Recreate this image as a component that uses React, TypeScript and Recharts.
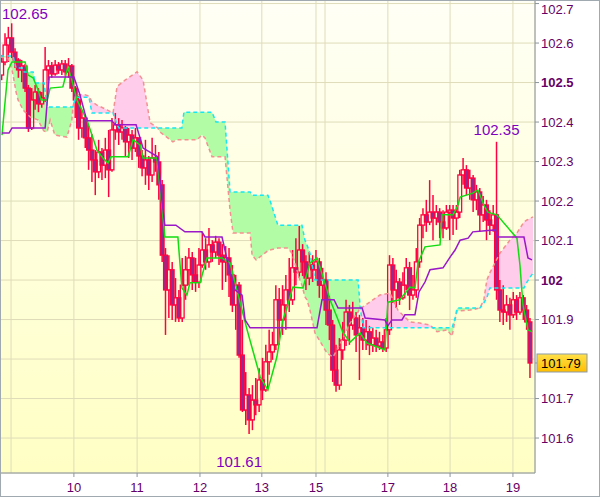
import {
  ComposedChart,
  Bar,
  Line,
  Area,
  XAxis,
  YAxis,
  CartesianGrid,
  ReferenceDot,
} from "recharts";

const FONT = "'Liberation Sans', Arial, sans-serif";

// x axis: one unit = one candle, day boundaries
const dayTicks = [3.3, 22.1, 41.0, 59.8, 78.3, 94.5, 97.2, 116.0, 134.6, 153.4];
const dayLabels = ["", "10", "11", "12", "13", "15", "", "17", "18", "19"];

const priceTicks = [101.6, 101.7, 101.8, 101.9, 102, 102.1, 102.2, 102.3, 102.4, 102.5, 102.6, 102.7];
const boldTicks = [102, 102.5];
const hiddenTicks = [101.8];

const firstOpen = 102.519;
const closes = [
  102.552, 102.595, 102.613, 102.577, 102.557, 102.532, 102.542, 102.486, 102.385, 102.456,
  102.476, 102.446, 102.461, 102.532, 102.542, 102.522, 102.544, 102.532, 102.547, 102.527,
  102.542, 102.486, 102.456, 102.385, 102.41, 102.36, 102.329, 102.304, 102.274, 102.324,
  102.291, 102.329, 102.279, 102.38, 102.393, 102.375, 102.385, 102.35, 102.367, 102.334,
  102.36, 102.314, 102.284, 102.304, 102.266, 102.309, 102.299, 102.241, 102.063, 101.975,
  102.026, 101.937, 101.955, 101.904, 101.987, 102.026, 102.056, 102.013, 101.995, 102.038,
  102.076, 102.046, 102.089, 102.071, 102.096, 102.063, 102.046, 102.056, 102.013, 101.937,
  101.987, 101.81, 101.671, 101.709, 101.646, 101.696, 101.684, 101.747, 101.722, 101.793,
  101.818, 101.836, 101.95, 101.899, 101.937, 101.975, 101.95, 102.031, 102.02, 102.076,
  102.046, 102.005, 102.038, 102.026, 102.046, 101.987, 102.0, 101.924, 101.886, 101.772,
  101.734, 101.823, 101.848, 101.919, 101.886, 101.904, 101.861, 101.879, 101.848, 101.869,
  101.836, 101.853, 101.833, 101.843, 101.828, 101.874, 102.038, 101.975, 101.995, 101.955,
  101.987, 102.031, 101.962, 101.975, 102.046, 102.139, 102.165, 102.147, 102.172, 102.157,
  102.172, 102.147, 102.132, 102.172, 102.177, 102.157, 102.172, 102.266, 102.279, 102.233,
  102.258, 102.203, 102.223, 102.165, 102.19, 102.152, 102.139, 102.165, 101.975, 101.924,
  101.919, 101.937, 101.912, 101.95, 101.919, 101.955, 101.924, 101.894, 101.79,
];
const highs = [
  102.57, 102.625, 102.641, 102.65, 102.587, 102.562, 102.557, 102.547, 102.494, 102.486,
  102.494, 102.486, 102.476, 102.59, 102.557, 102.552, 102.557, 102.552, 102.557, 102.557,
  102.562, 102.547, 102.491, 102.466, 102.431, 102.415, 102.39, 102.37, 102.329, 102.355,
  102.334, 102.36, 102.38, 102.41, 102.423, 102.41, 102.405, 102.39, 102.385, 102.38,
  102.385, 102.36, 102.329, 102.355, 102.314, 102.36, 102.342, 102.324, 102.253, 102.081,
  102.063, 102.046, 102.005, 101.975, 102.056, 102.061, 102.081, 102.071, 102.056, 102.081,
  102.122, 102.106, 102.132, 102.101, 102.112, 102.106, 102.091, 102.086, 102.081, 102.038,
  102.013, 101.995, 101.899, 101.767, 101.727, 101.734, 101.752, 101.777, 101.803, 101.836,
  101.874, 101.869, 101.987, 101.98, 101.987, 102.013, 102.056, 102.076, 102.106, 102.137,
  102.091, 102.063, 102.071, 102.063, 102.076, 102.056, 102.031, 102.02, 101.96, 101.899,
  101.836, 101.853, 101.894, 101.95, 101.937, 101.945, 101.919, 101.912, 101.904, 101.899,
  101.884, 101.879, 101.874, 101.869, 101.861, 101.904, 102.063, 102.056, 102.026, 102.005,
  102.02, 102.056, 102.046, 102.013, 102.081, 102.157, 102.182, 102.203, 102.253, 102.215,
  102.19, 102.182, 102.177, 102.19, 102.19, 102.19, 102.19, 102.279, 102.309, 102.291,
  102.279, 102.266, 102.241, 102.233, 102.213, 102.203, 102.177, 102.19, 102.35, 102.0,
  101.987, 101.962, 101.955, 101.97, 101.962, 101.97, 101.962, 101.937, 101.904,
];
const lows = [
  102.506, 102.544, 102.552, 102.562, 102.537, 102.512, 102.501, 102.476, 102.375, 102.38,
  102.431, 102.425, 102.436, 102.451, 102.506, 102.512, 102.517, 102.522, 102.519, 102.517,
  102.512, 102.476, 102.41, 102.355, 102.36, 102.334, 102.279, 102.248, 102.215, 102.258,
  102.253, 102.258, 102.21, 102.274, 102.355, 102.342, 102.355, 102.314, 102.309, 102.304,
  102.324, 102.284, 102.263, 102.241, 102.228, 102.248, 102.274, 102.203, 102.046, 101.861,
  101.904, 101.899, 101.894, 101.894, 101.894, 101.95, 101.987, 101.975, 101.97, 101.98,
  102.031, 102.026, 102.031, 102.046, 102.056, 102.038, 101.975, 101.995, 101.957, 101.919,
  101.874, 101.803, 101.666, 101.633, 101.61, 101.62, 101.658, 101.666, 101.696, 101.717,
  101.76, 101.798, 101.823, 101.836, 101.861, 101.874, 101.919, 101.937, 101.987, 102.005,
  102.01, 101.975, 101.987, 101.995, 102.0, 101.955, 101.95, 101.886, 101.848, 101.742,
  101.717, 101.722, 101.798, 101.833, 101.836, 101.874, 101.818, 101.747, 101.823, 101.823,
  101.81, 101.818, 101.818, 101.823, 101.818, 101.818, 101.861, 101.942, 101.929, 101.937,
  101.95, 101.975, 101.924, 101.95, 101.955, 102.031, 102.106, 102.122, 102.139, 102.101,
  102.139, 102.106, 102.106, 102.127, 102.101, 102.114, 102.127, 102.157, 102.241, 102.215,
  102.203, 102.172, 102.177, 102.122, 102.147, 102.101, 102.114, 102.122, 101.95, 101.894,
  101.886, 101.894, 101.874, 101.904, 101.899, 101.912, 101.899, 101.874, 101.752,
];

// tenkan (green) and kijun (purple) turning points: [candle time, price]
const tenkan: [number, number][] = [
  [0.6, 102.367], [2.4, 102.532], [3.6, 102.552], [7.5, 102.552], [8.4, 102.519], [9.9, 102.512],
  [11.4, 102.481], [12.3, 102.456], [14.1, 102.456], [15.0, 102.486], [18.8, 102.489], [20.3, 102.539],
  [21.5, 102.506], [23.0, 102.456], [26.0, 102.405], [29.0, 102.329], [30.8, 102.309], [32.3, 102.296],
  [33.2, 102.312], [38.3, 102.312], [39.8, 102.355], [41.9, 102.342], [42.8, 102.309], [46.9, 102.309],
  [48.4, 102.19], [49.3, 102.109], [53.2, 102.109], [54.4, 101.98], [55.9, 101.962], [56.8, 101.993],
  [59.8, 101.993], [61.9, 102.056], [66.4, 102.056], [68.8, 102.043], [73.9, 101.874], [77.8, 101.755],
  [80.1, 101.722], [82.8, 101.805], [84.6, 101.899], [85.8, 101.929], [87.6, 101.982], [90.6, 101.98],
  [92.7, 102.043], [94.8, 102.056], [96.6, 102.008], [98.7, 101.95], [100.8, 101.906], [102.6, 101.866],
  [104.7, 101.843], [107.7, 101.866], [109.7, 101.841], [112.7, 101.831], [115.1, 101.823], [116.0, 101.944],
  [119.6, 101.95], [122.6, 101.982], [124.1, 101.98], [125.0, 102.043], [127.1, 102.084], [131.6, 102.089],
  [132.2, 102.165], [135.5, 102.165], [137.0, 102.19], [137.6, 102.21], [141.4, 102.22], [142.9, 102.228],
  [145.0, 102.185], [145.9, 102.172], [148.6, 102.165], [154.6, 102.106], [155.5, 102.038], [156.4, 101.937],
  [157.9, 101.874], [159.1, 101.869],
];
const kijun: [number, number][] = [
  [0.6, 102.372], [2.7, 102.372], [3.6, 102.385], [13.5, 102.385], [14.7, 102.514], [22.1, 102.514],
  [23.9, 102.469], [26.0, 102.403], [33.5, 102.403], [34.4, 102.393], [40.7, 102.393], [42.8, 102.334],
  [47.2, 102.312], [48.4, 102.203], [49.3, 102.139], [52.6, 102.139], [55.3, 102.122], [60.4, 102.122],
  [61.3, 102.109], [66.4, 102.109], [68.8, 102.018], [70.3, 101.975], [72.4, 101.962], [73.3, 101.899],
  [74.8, 101.879], [94.8, 101.879], [96.3, 101.95], [99.9, 101.95], [101.1, 101.929], [108.3, 101.929],
  [109.2, 101.904], [115.1, 101.899], [116.0, 101.884], [117.2, 101.899], [120.2, 101.899], [121.1, 101.912],
  [124.1, 101.912], [125.3, 101.97], [127.1, 101.995], [128.6, 102.026], [132.5, 102.031], [134.6, 102.058],
  [136.1, 102.076], [137.6, 102.101], [140.0, 102.106], [141.4, 102.122], [148.0, 102.127], [148.9, 102.109],
  [156.7, 102.109], [157.9, 102.056], [159.1, 102.051],
];

// cloud: senkou span A (cyan) and span B (salmon)
const cloudT = [
  0, 2.4, 3.6, 3.9, 4.8, 5.4, 6.6, 7.2, 9.0, 9.9, 10.5, 11.4, 12.9, 13.2, 14.1, 15.0, 16.4, 20.0, 21.5, 21.8,
  22.7, 25.4, 26.6, 27.5, 29.0, 32.0, 33.8, 35.0, 35.6, 37.4, 41.0, 42.8, 44.9, 47.2, 47.8, 51.7, 52.9, 54.4,
  55.0, 58.9, 60.4, 61.3, 63.4, 64.6, 67.3, 68.8, 69.7, 74.8, 75.4, 76.6, 80.1, 80.7, 83.1, 86.1, 87.3, 89.7,
  90.3, 91.2, 91.8, 92.7, 94.2, 97.8, 99.6, 102.3, 104.7, 106.8, 107.1, 107.7, 108.6, 111.5, 113.6, 116.6,
  119.0, 121.1, 122.6, 125.6, 128.6, 129.5, 130.7, 133.7, 135.2, 136.1, 136.7, 140.6, 143.5, 144.7, 145.6,
  146.5, 147.4, 149.5, 152.5, 154.6, 156.7, 157.6, 159.4,
];
const spanA = [
  102.567, 102.567, 102.567, 102.567, 102.537, 102.537, 102.537, 102.527, 102.527, 102.527, 102.499, 102.499,
  102.499, 102.499, 102.438, 102.438, 102.438, 102.438, 102.438, 102.438, 102.463, 102.463, 102.463, 102.423,
  102.423, 102.423, 102.423, 102.393, 102.385, 102.385, 102.385, 102.385, 102.385, 102.385, 102.385, 102.385,
  102.385, 102.385, 102.425, 102.425, 102.425, 102.425, 102.425, 102.4, 102.4, 102.223, 102.223, 102.223,
  102.215, 102.215, 102.215, 102.203, 102.139, 102.139, 102.139, 102.139, 102.139, 102.101, 102.089, 102.068,
  102.0, 102.0, 102.0, 102.0, 102.0, 102.0, 102.0, 101.932, 101.879, 101.879, 101.879, 101.879, 101.879,
  101.879, 101.879, 101.879, 101.879, 101.879, 101.879, 101.879, 101.879, 101.904, 101.929, 101.929, 101.929,
  101.942, 101.955, 101.98, 101.98, 101.98, 101.98, 101.98, 101.98, 101.995, 102.018,
];
const spanB = [
  102.565, 102.562, 102.532, 102.519, 102.476, 102.456, 102.436, 102.428, 102.413, 102.41, 102.408, 102.405,
  102.38, 102.377, 102.375, 102.405, 102.367, 102.362, 102.405, 102.438, 102.469, 102.469, 102.466, 102.451,
  102.443, 102.431, 102.423, 102.489, 102.494, 102.506, 102.527, 102.506, 102.398, 102.385, 102.375, 102.35,
  102.355, 102.355, 102.355, 102.355, 102.367, 102.36, 102.312, 102.312, 102.312, 102.177, 102.119, 102.119,
  102.063, 102.051, 102.074, 102.076, 102.081, 102.081, 102.068, 102.0, 101.987, 101.957, 101.95, 101.924,
  101.866, 101.815, 101.805, 101.848, 101.891, 101.917, 101.919, 101.932, 101.932, 101.95, 101.962, 101.967,
  101.924, 101.906, 101.894, 101.891, 101.886, 101.879, 101.869, 101.874, 101.858, 101.899, 101.922, 101.924,
  101.929, 101.95, 102.0, 102.018, 102.033, 102.068, 102.101, 102.119, 102.147, 102.152, 102.16,
];

const candles = closes.map((close, i) => ({
  t: i + 0.5,
  open: i === 0 ? firstOpen : closes[i - 1],
  high: highs[i],
  low: lows[i],
  close,
}));
const cloud = cloudT.map((t, i) => ({ t, a: spanA[i], b: spanB[i] }));
const toPts = (pts: [number, number][]) => pts.map(([t, v]) => ({ t, v }));
const lastClose = closes[closes.length - 1];

const RED = "#FF0040";

function Candle(props: any) {
  const { x, y, width, height, payload } = props;
  if (!payload || height == null) return null;
  const top = Math.min(y, y + height);
  const h = Math.abs(height);
  const k = h / (payload.high - payload.low);
  const yo = top + (payload.high - payload.open) * k;
  const yc = top + (payload.high - payload.close) * k;
  const cx = x + width / 2;
  const bTop = Math.min(yo, yc);
  const bH = Math.max(Math.abs(yo - yc), 1);
  const bear = payload.close < payload.open;
  return (
    <g>
      <line x1={cx} x2={cx} y1={top} y2={bTop} stroke={RED} strokeWidth={1.5} />
      <line x1={cx} x2={cx} y1={bTop + bH} y2={top + h} stroke={RED} strokeWidth={1.5} />
      <rect
        x={cx - 1.9}
        y={bTop}
        width={3.8}
        height={bH}
        fill={bear ? "#962A8C" : "none"}
        stroke={RED}
        strokeWidth={1.3}
      />
    </g>
  );
}

function DayTick(props: any) {
  const { x, y, payload } = props;
  const label = dayLabels[dayTicks.indexOf(payload.value)];
  if (!label) return null;
  return (
    <g>
      <line x1={x} x2={x} y1={y} y2={y + 4} stroke="#8C969E" />
      <text x={x} y={y + 19} textAnchor="middle" fontSize={13} fill="#660066" fontFamily={FONT}>
        {label}
      </text>
    </g>
  );
}

function PriceTick(props: any) {
  const { x, y, payload } = props;
  const v = payload.value;
  if (hiddenTicks.some((h) => Math.abs(h - v) < 1e-6)) return null;
  const bold = boldTicks.some((b) => Math.abs(b - v) < 1e-6);
  const ty = Math.max(y, 9);
  return (
    <g>
      <line x1={x} x2={x + 4} y1={y} y2={y} stroke="#8C969E" />
      <text
        x={x + 6}
        y={ty + 4.5}
        fontSize={13}
        fontWeight={bold ? "bold" : "normal"}
        fill="#660066"
        fontFamily={FONT}
      >
        {String(v)}
      </text>
    </g>
  );
}

const peakLabel = (text: string, dx: number, dy: number, anchor: string) => (props: any) => {
  const vb = props.viewBox || {};
  const cx = (vb.x || 0) + (vb.width || 0) / 2;
  const cy = (vb.y || 0) + (vb.height || 0) / 2;
  return (
    <text x={cx + dx} y={cy + dy} textAnchor={anchor} fontSize={15} fill="#8000C0" fontFamily={FONT}>
      {text}
    </text>
  );
};

const priceBox = (props: any) => {
  const vb = props.viewBox || {};
  const cx = (vb.x || 0) + (vb.width || 0) / 2;
  const cy = (vb.y || 0) + (vb.height || 0) / 2;
  return (
    <g>
      <line x1={cx} x2={cx + 3} y1={cy} y2={cy} stroke="#8C969E" />
      <rect x={cx + 2} y={cy - 9} width={50} height={18} fill="url(#gold)" stroke="#8C9BA8" />
      <text x={cx + 6} y={cy + 5} fontSize={13} fill="#000" fontFamily={FONT}>
        {lastClose.toFixed(2)}
      </text>
    </g>
  );
};

export default function App() {
  return (
    <div style={{ position: "absolute", left: 0, top: 0, width: 600, height: 497, background: "#fff" }}>
      <ComposedChart
        width={600}
        height={497}
        data={candles}
        margin={{ top: 0, right: 0, bottom: 0, left: 0 }}
      >
        <defs>
          <linearGradient id="plotBg" x1="0" y1="0" x2="0" y2="1">
            <stop offset="0%" stopColor="#FFFFF6" />
            <stop offset="100%" stopColor="#FFFFC4" />
          </linearGradient>
          <linearGradient id="gold" x1="0" y1="0" x2="0" y2="1">
            <stop offset="0%" stopColor="#FFE04A" />
            <stop offset="100%" stopColor="#FFBE00" />
          </linearGradient>
        </defs>
        <CartesianGrid fill="url(#plotBg)" stroke="#DEDCB8" strokeWidth={1} />
        <XAxis
          dataKey="t"
          type="number"
          domain={[0, 160]}
          ticks={dayTicks}
          interval={0}
          allowDataOverflow
          height={24}
          tickSize={0}
          tickMargin={0}
          tickLine={false}
          axisLine={{ stroke: "#8C969E" }}
          tick={<DayTick />}
        />
        <YAxis
          orientation="right"
          type="number"
          domain={[101.5115, 102.709]}
          ticks={priceTicks}
          interval={0}
          allowDataOverflow
          width={65}
          tickSize={0}
          tickMargin={0}
          tickLine={false}
          axisLine={{ stroke: "#8C969E" }}
          tick={<PriceTick />}
        />
        <Area
          data={cloud}
          dataKey={(d: any) => (d.a >= d.b ? [d.b, d.a] : [d.a, d.a])}
          type="linear"
          stroke="none"
          fill="#B2FCA6"
          fillOpacity={1}
          dot={false}
          activeDot={false}
          isAnimationActive={false}
        />
        <Area
          data={cloud}
          dataKey={(d: any) => (d.b > d.a ? [d.a, d.b] : [d.a, d.a])}
          type="linear"
          stroke="none"
          fill="#FFCCEC"
          fillOpacity={1}
          dot={false}
          activeDot={false}
          isAnimationActive={false}
        />
        <Line
          data={cloud}
          dataKey="b"
          type="linear"
          stroke="#F59090"
          strokeWidth={1.5}
          strokeDasharray="4 3"
          dot={false}
          activeDot={false}
          isAnimationActive={false}
        />
        <Line
          data={cloud}
          dataKey="a"
          type="linear"
          stroke="#14E8F4"
          strokeWidth={1.5}
          strokeDasharray="4 3"
          dot={false}
          activeDot={false}
          isAnimationActive={false}
        />
        <Bar
          dataKey={(d: any) => [d.low, d.high]}
          barSize={3}
          shape={<Candle />}
          isAnimationActive={false}
        />
        <Line
          data={toPts(tenkan)}
          dataKey="v"
          type="linear"
          stroke="#11DD11"
          strokeWidth={1.5}
          dot={false}
          activeDot={false}
          isAnimationActive={false}
        />
        <Line
          data={toPts(kijun)}
          dataKey="v"
          type="linear"
          stroke="#9A18C8"
          strokeWidth={1.5}
          dot={false}
          activeDot={false}
          isAnimationActive={false}
        />
        <ReferenceDot x={3.5} y={102.65} r={0} ifOverflow="visible" label={peakLabel("102.65", -9.7, -4, "start")} />
        <ReferenceDot x={148.5} y={102.35} r={0} ifOverflow="visible" label={peakLabel("102.35", 0, -7, "middle")} />
        <ReferenceDot x={74.5} y={101.61} r={0} ifOverflow="visible" label={peakLabel("101.61", -10, 33, "middle")} />
        <ReferenceDot x={160} y={lastClose} r={0} ifOverflow="visible" label={priceBox} />
      </ComposedChart>
      <div
        style={{
          position: "absolute",
          left: 0,
          top: 0,
          width: 600,
          height: 497,
          boxSizing: "border-box",
          border: "1px solid #A0A8B0",
          pointerEvents: "none",
        }}
      />
    </div>
  );
}
